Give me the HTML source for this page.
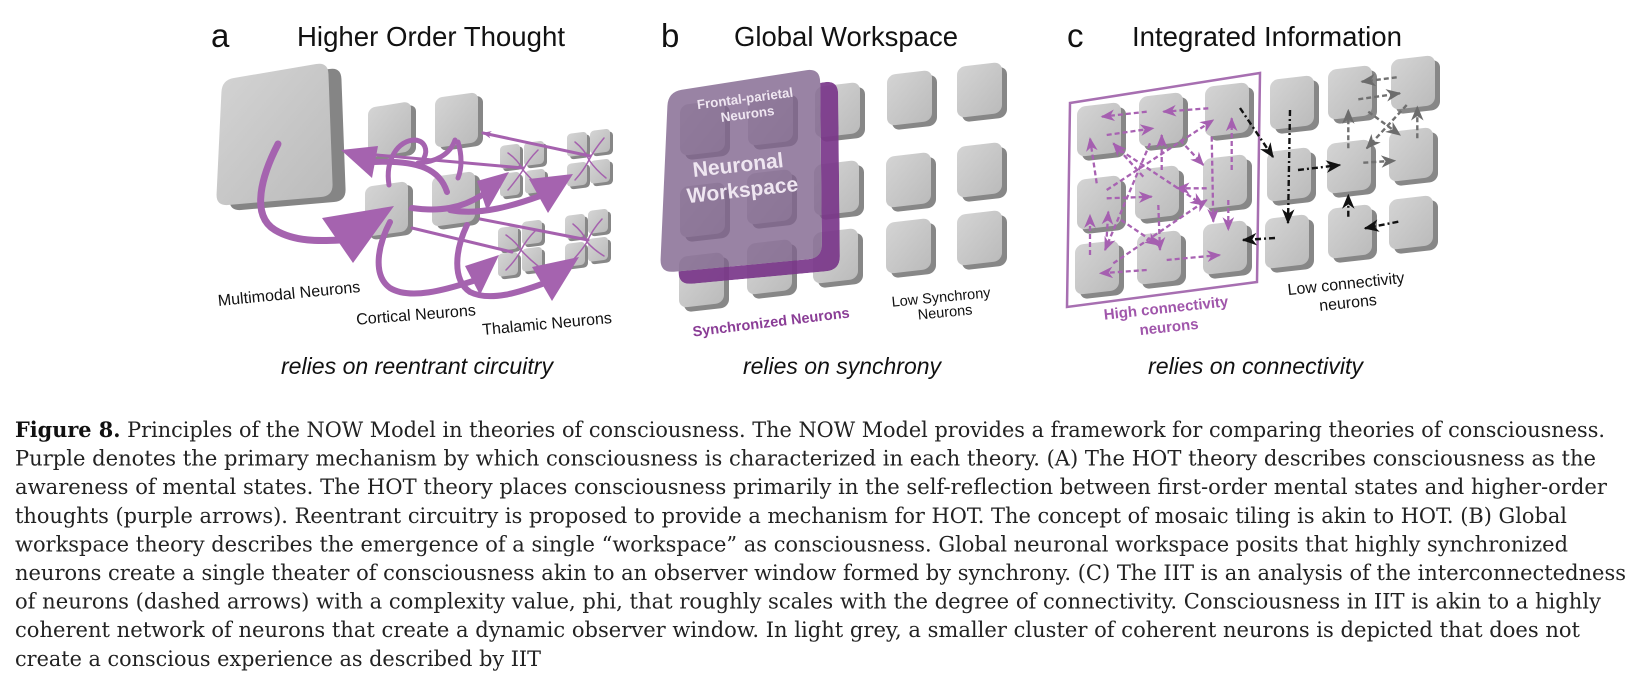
<!DOCTYPE html>
<html><head><meta charset="utf-8"><style>html,body{margin:0;padding:0;background:#fff}svg{display:block}</style></head><body>
<svg width="1646" height="681" viewBox="0 0 1646 681" xmlns="http://www.w3.org/2000/svg">
<defs>
<linearGradient id="sq" x1="0" y1="0" x2="1" y2="1"><stop offset="0" stop-color="#d4d4d4"/><stop offset="1" stop-color="#bbbbbb"/></linearGradient>
<marker id="mp" viewBox="0 0 12 10" refX="11" refY="5" markerWidth="14" markerHeight="12" markerUnits="userSpaceOnUse" orient="auto"><path d="M0,0 L12,5 L0,10 L3.5,5 z" fill="#a55fb0"/></marker>
<marker id="mk" viewBox="0 0 12 10" refX="11" refY="5" markerWidth="15" markerHeight="13" markerUnits="userSpaceOnUse" orient="auto"><path d="M0,0 L12,5 L0,10 L3.5,5 z" fill="#111"/></marker>
<marker id="mg" viewBox="0 0 12 10" refX="11" refY="5" markerWidth="15" markerHeight="13" markerUnits="userSpaceOnUse" orient="auto"><path d="M0,0 L12,5 L0,10 L3.5,5 z" fill="#6c6c6c"/></marker>
<marker id="ms" viewBox="0 0 12 10" refX="11" refY="5" markerWidth="9" markerHeight="8" markerUnits="userSpaceOnUse" orient="auto"><path d="M0,0 L12,5 L0,10 L3.5,5 z" fill="#a55fb0"/></marker>
<g id="sa"><rect x="5" y="4" width="43" height="50" rx="7" fill="#878787"/><rect width="43" height="50" rx="7" fill="url(#sq)"/></g>
<g id="sb"><rect x="5" y="5" width="45" height="51" rx="8" fill="#878787"/><rect width="45" height="51" rx="8" fill="url(#sq)"/></g>
<g id="sc"><rect x="5" y="5" width="44" height="50" rx="8" fill="#878787"/><rect width="44" height="50" rx="8" fill="url(#sq)"/></g>
<g id="st"><rect x="3" y="3" width="20" height="23" rx="4" fill="#878787"/><rect width="20" height="23" rx="4" fill="url(#sq)"/></g>
<mask id="bm" maskUnits="userSpaceOnUse" x="0" y="0" width="1646" height="681">
<path d="M699.8,101.8 L824.2,82.2 Q838,80 838.15,94 L839.85,256 Q840,270 826.1,271.3 L691.9,283.7 Q678,285 678.6,271 L685.4,118 Q686,104 699.8,101.8 Z" fill="#fff"/>
<path d="M681.8,89.8 L806.2,70.2 Q820,68 820.15,82 L821.85,244 Q822,258 808.1,259.3 L673.9,271.7 Q660,273 660.6,259 L667.4,106 Q668,92 681.8,89.8 Z" fill="#000"/>
</mask>
</defs>
<rect width="1646" height="681" fill="#fff"/>

<!-- Titles -->
<g font-family="'Liberation Sans', Arial, sans-serif" fill="#111">
<text x="211" y="47" font-size="33">a</text>
<text x="297" y="46" font-size="27.5" textLength="268" lengthAdjust="spacingAndGlyphs">Higher Order Thought</text>
<text x="661" y="47" font-size="33">b</text>
<text x="734" y="46" font-size="27.5" textLength="224" lengthAdjust="spacingAndGlyphs">Global Workspace</text>
<text x="1067" y="47" font-size="33">c</text>
<text x="1132" y="46" font-size="27.5" textLength="270" lengthAdjust="spacingAndGlyphs">Integrated Information</text>
<g font-style="italic" font-size="23">
<text x="281" y="374" textLength="272" lengthAdjust="spacingAndGlyphs">relies on reentrant circuitry</text>
<text x="743" y="374" textLength="198" lengthAdjust="spacingAndGlyphs">relies on synchrony</text>
<text x="1148" y="374" textLength="215" lengthAdjust="spacingAndGlyphs">relies on connectivity</text>
</g>
</g>

<!-- ===== Panel a ===== -->
<path d="M246.8,83 L329.2,69 Q341,67 341.45,79 L345.55,189 Q346,201 334,202 L241,210 Q229,211 229.57,199 L234.43,97 Q235,85 246.8,83 Z" fill="#858585"/>
<path d="M233.8,78 L316.2,64 Q328,62 328.45,74 L332.55,184 Q333,196 321,197 L228,205 Q216,206 216.57,194 L221.43,92 Q222,80 233.8,78 Z" fill="url(#sq)"/>
<use href="#sa" transform="translate(368,108) skewY(-9)"/>
<use href="#sa" transform="translate(435,98) skewY(-8)"/>
<use href="#sa" transform="translate(365,187) skewY(-8)"/>
<use href="#sa" transform="translate(432,177) skewY(-8)"/>
<!-- thalamic clusters -->
<use href="#st" transform="translate(500,146) skewY(-7)"/>
<use href="#st" transform="translate(524,143) skewY(-7)"/>
<use href="#st" transform="translate(500,174) skewY(-7)"/>
<use href="#st" transform="translate(525,171) skewY(-7)"/>
<use href="#st" transform="translate(567,134) skewY(-7)"/>
<use href="#st" transform="translate(590,131) skewY(-7)"/>
<use href="#st" transform="translate(567,164) skewY(-7)"/>
<use href="#st" transform="translate(590,161) skewY(-7)"/>
<use href="#st" transform="translate(498,228) skewY(-7)"/>
<use href="#st" transform="translate(522,222) skewY(-7)"/>
<use href="#st" transform="translate(498,254) skewY(-7)"/>
<use href="#st" transform="translate(522,249) skewY(-7)"/>
<use href="#st" transform="translate(565,216) skewY(-7)"/>
<use href="#st" transform="translate(588,211) skewY(-7)"/>
<use href="#st" transform="translate(565,244) skewY(-7)"/>
<use href="#st" transform="translate(588,239) skewY(-7)"/>
<!-- thin purple lines -->
<g stroke="#a561ae" fill="none" stroke-linecap="round">
<path d="M590,156 L483,133" stroke-width="3" marker-end="url(#ms)"/>
<path d="M377,155 L523,168" stroke-width="3"/>
<path d="M480,219 L588,240" stroke-width="3"/>
<path d="M412,228 L512,252" stroke-width="3"/>
<path d="M410,209 L432,211" stroke-width="3"/>
<!-- tendrils -->
<g stroke-width="1.5">
<path d="M508,153 Q518,160 523,170 M538,150 Q528,160 523,170 M508,190 Q518,178 523,170 M540,188 Q530,178 523,170"/>
<path d="M575,142 Q585,150 589,160 M604,138 Q594,150 589,160 M575,180 Q584,170 589,160 M606,178 Q596,170 589,160"/>
<path d="M506,235 Q516,242 521,250 M536,230 Q526,240 521,250 M506,270 Q516,260 521,250 M538,266 Q528,258 521,250"/>
<path d="M573,224 Q583,232 587,242 M602,219 Q592,230 587,242 M573,260 Q582,250 587,242 M604,256 Q594,250 587,242"/>
</g>
</g>
<!-- thick purple arrows -->
<g stroke="#a563af" fill="none" stroke-linecap="round">
<path d="M278,144 C262,175 250,215 275,230 C295,242 320,241 340,240" stroke-width="7"/>
<path d="M447,192 C440,170 420,160 374,162" stroke-width="6"/>
<path d="M390,222 C378,245 372,275 390,288 C410,300 445,290 473,281" stroke-width="6"/>
<path d="M467,225 C455,250 452,280 470,292 C490,302 520,292 542,284" stroke-width="6"/>
<path d="M412,208 C440,212 462,208 482,195" stroke-width="6"/>
<path d="M450,210 C480,216 515,205 540,196" stroke-width="6"/>
<path d="M389,185 C385,160 398,140 415,140 C425,141 428,150 424,158" stroke-width="5"/>
<path d="M455,140 C450,155 435,162 418,163" stroke-width="5"/>
<path d="M458,142 C462,155 462,168 458,178" stroke-width="5"/>
</g>
<g fill="#a563af">
<polygon points="394,206 322,218 353,263"/>
<polygon points="341,150 378,146 372,178"/>
<polygon points="499,255 465,266 480,295"/>
<polygon points="579,257 532,267 552,301"/>
<polygon points="509,172 477,181 487,211"/>
<polygon points="573,174 529,179 548,213"/>
</g>
<g font-family="'Liberation Sans', Arial, sans-serif" font-size="16" fill="#111" text-anchor="middle">
<text x="289" y="299" transform="rotate(-5.6 289 294)" textLength="143" lengthAdjust="spacingAndGlyphs">Multimodal Neurons</text>
<text x="416" y="320" transform="rotate(-4.5 416 315)" textLength="120" lengthAdjust="spacingAndGlyphs">Cortical Neurons</text>
<text x="547" y="329" transform="rotate(-5.3 547 324)" textLength="130" lengthAdjust="spacingAndGlyphs">Thalamic Neurons</text>
</g>

<!-- ===== Panel b ===== -->
<use href="#sb" transform="translate(680,105) skewY(-6.5)"/>
<use href="#sb" transform="translate(680,187) skewY(-6.5)"/>
<use href="#sb" transform="translate(679,257) skewY(-6.5)"/>
<use href="#sb" transform="translate(748,95) skewY(-6.5)"/>
<use href="#sb" transform="translate(747,174) skewY(-6.5)"/>
<use href="#sb" transform="translate(747,244) skewY(-6.5)"/>
<use href="#sb" transform="translate(815,87) skewY(-6.5)"/>
<use href="#sb" transform="translate(814,165) skewY(-6.5)"/>
<use href="#sb" transform="translate(813,233) skewY(-6.5)"/>
<use href="#sb" transform="translate(887,75) skewY(-6.5)"/>
<use href="#sb" transform="translate(886,157) skewY(-6.5)"/>
<use href="#sb" transform="translate(886,223) skewY(-6.5)"/>
<use href="#sb" transform="translate(957,67) skewY(-6.5)"/>
<use href="#sb" transform="translate(957,147) skewY(-6.5)"/>
<use href="#sb" transform="translate(957,215) skewY(-6.5)"/>
<path d="M699.8,101.8 L824.2,82.2 Q838,80 838.15,94 L839.85,256 Q840,270 826.1,271.3 L691.9,283.7 Q678,285 678.6,271 L685.4,118 Q686,104 699.8,101.8 Z" fill="#7a378a" opacity="0.92" mask="url(#bm)"/>
<path d="M681.8,89.8 L806.2,70.2 Q820,68 820.15,82 L821.85,244 Q822,258 808.1,259.3 L673.9,271.7 Q660,273 660.6,259 L667.4,106 Q668,92 681.8,89.8 Z" fill="#80648d" opacity="0.8"/>
<g font-family="'Liberation Sans', Arial, sans-serif" font-weight="bold" text-anchor="middle" fill="#efe6f1">
<text x="745" y="103" font-size="13.3" transform="rotate(-7.5 745 98.5)">Frontal-parietal</text>
<text x="747.5" y="118.5" font-size="13.3" transform="rotate(-7.5 747.5 114)">Neurons</text>
<text x="738" y="172" font-size="21" transform="rotate(-6.3 738 165)">Neuronal</text>
<text x="742.5" y="197" font-size="21" transform="rotate(-6.3 742.5 190)">Workspace</text>
</g>
<text x="771" y="327" font-family="'Liberation Sans', Arial, sans-serif" font-weight="bold" font-size="14.5" fill="#8a3d96" text-anchor="middle" transform="rotate(-7 771 322)" textLength="158" lengthAdjust="spacingAndGlyphs">Synchronized Neurons</text>
<g font-family="'Liberation Sans', Arial, sans-serif" font-size="14.5" fill="#111" text-anchor="middle">
<text x="941" y="302" transform="rotate(-5.5 941 297)">Low Synchrony</text>
<text x="945" y="317" transform="rotate(-5.5 945 312)">Neurons</text>
</g>

<!-- ===== Panel c ===== -->
<use href="#sc" transform="translate(1077,107) skewY(-6.5)"/>
<use href="#sc" transform="translate(1139,97) skewY(-6.5)"/>
<use href="#sc" transform="translate(1205,87) skewY(-6.5)"/>
<use href="#sc" transform="translate(1077,180) skewY(-6.5)"/>
<use href="#sc" transform="translate(1135,170) skewY(-6.5)"/>
<use href="#sc" transform="translate(1203,159) skewY(-6.5)"/>
<use href="#sc" transform="translate(1075,245) skewY(-6.5)"/>
<use href="#sc" transform="translate(1137,235) skewY(-6.5)"/>
<use href="#sc" transform="translate(1203,225) skewY(-6.5)"/>
<use href="#sc" transform="translate(1270,80) skewY(-6.5)"/>
<use href="#sc" transform="translate(1267,152) skewY(-6.5)"/>
<use href="#sc" transform="translate(1265,219) skewY(-6.5)"/>
<use href="#sc" transform="translate(1328,70) skewY(-6.5)"/>
<use href="#sc" transform="translate(1327,144) skewY(-6.5)"/>
<use href="#sc" transform="translate(1328,209) skewY(-6.5)"/>
<use href="#sc" transform="translate(1391,60) skewY(-6.5)"/>
<use href="#sc" transform="translate(1389,132) skewY(-6.5)"/>
<use href="#sc" transform="translate(1389,200) skewY(-6.5)"/>
<polygon points="1070,103 1260,73 1257,282 1067,307" fill="none" stroke="#a76fb1" stroke-width="2.5"/>
<g stroke="#a862b2" stroke-width="2.3" stroke-dasharray="5 3" fill="none" marker-end="url(#mp)">
<path d="M1146.7,111.7 L1101.7,116.7"/>
<path d="M1106.7,135 L1153.3,128.3"/>
<path d="M1208.3,108.3 L1163.3,111.7"/>
<path d="M1096.7,183.3 L1090,138.3"/>
<path d="M1090,255 L1090,215"/>
<path d="M1146.7,270 L1100,273.3"/>
<path d="M1166.7,260 L1220,255"/>
<path d="M1106.7,198.3 L1151.7,196.7"/>
<path d="M1206.7,188.3 L1176.7,188.3"/>
<path d="M1211.7,136.7 L1213.3,221.7"/>
<path d="M1231.7,170 L1231.7,118.3"/>
<path d="M1228.3,200 L1228.3,230"/>
<path d="M1158.3,205 L1160,250"/>
<path d="M1180,140 L1203.3,165"/>
<path d="M1106.7,190 L1213.3,120"/>
<path d="M1150,143.3 L1105,250"/>
<path d="M1113.3,263.3 L1206.7,200"/>
<path d="M1120,150 L1203.3,205"/>
<path d="M1121,220 L1158,245"/>
<path d="M1161.7,170 L1161.7,135"/>
<path d="M1143.3,176.7 L1113.3,143.3"/>
<path d="M1106.7,236.7 L1108.3,211.7"/>
</g>
<g stroke="#111" stroke-width="2.4" stroke-dasharray="6 3 2 3" fill="none" marker-end="url(#mk)">
<path d="M1240,108 L1273,157"/>
<path d="M1290,110 L1288,223"/>
<path d="M1298,170 L1340,165"/>
<path d="M1275,238 L1243,240"/>
<path d="M1348.3,216.7 L1348.3,195"/>
<path d="M1398.3,221.7 L1365,228.3"/>
</g>
<g stroke="#707070" stroke-width="2.4" stroke-dasharray="5 3" fill="none" marker-end="url(#mg)">
<path d="M1396.7,77.3 L1361.7,81.7"/>
<path d="M1358.3,99.3 L1400,93.3"/>
<path d="M1348.3,148.3 L1348.3,110"/>
<path d="M1417.3,138.3 L1417.3,106.7"/>
<path d="M1363.3,162.7 L1395,160.7"/>
<path d="M1368.3,111.7 L1400,135"/>
<path d="M1406.7,105 L1366.7,148.3"/>
</g>
<g font-family="'Liberation Sans', Arial, sans-serif" font-weight="bold" font-size="15" fill="#a056ab" text-anchor="middle">
<text x="1166" y="313" transform="rotate(-6.2 1166 308)">High connectivity</text>
<text x="1169" y="332" transform="rotate(-6.2 1169 327)">neurons</text>
</g>
<g font-family="'Liberation Sans', Arial, sans-serif" font-size="16" fill="#111" text-anchor="middle">
<text x="1346" y="289" transform="rotate(-6 1346 284)">Low connectivity</text>
<text x="1348" y="308" transform="rotate(-6 1348 303)">neurons</text>
</g>

<!-- ===== Caption ===== -->
<g font-family="'DejaVu Serif', 'Liberation Serif', serif" font-size="21.5" fill="#222" lengthAdjust="spacingAndGlyphs">
<text x="15" y="437" textLength="1590" lengthAdjust="spacingAndGlyphs"><tspan font-weight="bold" fill="#111">Figure 8.</tspan> Principles of the NOW Model in theories of consciousness. The NOW Model provides a framework for comparing theories of consciousness.</text>
<text x="15" y="465.6" textLength="1581" lengthAdjust="spacingAndGlyphs">Purple denotes the primary mechanism by which consciousness is characterized in each theory. (A) The HOT theory describes consciousness as the</text>
<text x="15" y="494.2" textLength="1592" lengthAdjust="spacingAndGlyphs">awareness of mental states. The HOT theory places consciousness primarily in the self-reflection between first-order mental states and higher-order</text>
<text x="15" y="522.8" textLength="1552" lengthAdjust="spacingAndGlyphs">thoughts (purple arrows). Reentrant circuitry is proposed to provide a mechanism for HOT. The concept of mosaic tiling is akin to HOT. (B) Global</text>
<text x="15" y="551.4" textLength="1553" lengthAdjust="spacingAndGlyphs">workspace theory describes the emergence of a single “workspace” as consciousness. Global neuronal workspace posits that highly synchronized</text>
<text x="15" y="580" textLength="1611" lengthAdjust="spacingAndGlyphs">neurons create a single theater of consciousness akin to an observer window formed by synchrony. (C) The IIT is an analysis of the interconnectedness</text>
<text x="15" y="608.6" textLength="1586" lengthAdjust="spacingAndGlyphs">of neurons (dashed arrows) with a complexity value, phi, that roughly scales with the degree of connectivity. Consciousness in IIT is akin to a highly</text>
<text x="15" y="637.2" textLength="1565" lengthAdjust="spacingAndGlyphs">coherent network of neurons that create a dynamic observer window. In light grey, a smaller cluster of coherent neurons is depicted that does not</text>
<text x="15" y="665.8" textLength="526" lengthAdjust="spacingAndGlyphs">create a conscious experience as described by IIT</text>
</g>
</svg>
</body></html>
